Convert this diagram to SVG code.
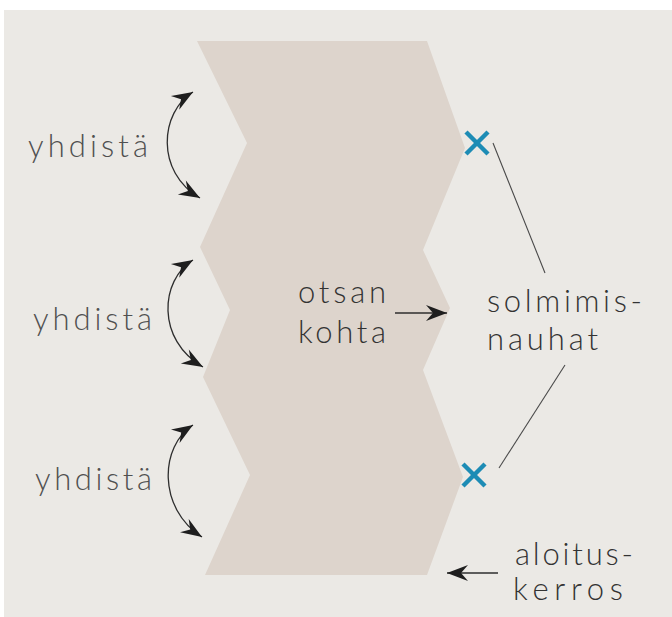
<svg xmlns="http://www.w3.org/2000/svg" width="672" height="617" viewBox="0 0 672 617">
  <style>
    .lbl { font-family: Lato, "Open Sans", "Liberation Sans", sans-serif; font-size: 31px; font-weight: 300; fill: #333333; }
    .lbl.soft { fill: #505050; }
    .conn { fill: none; stroke: #2e2e2e; stroke-width: 1.3; }
    .lead { fill: none; stroke: #4a4a4a; stroke-width: 1.1; }
    .xmark { stroke: #1d8cb5; stroke-width: 4.5; stroke-linecap: butt; }
  </style>
  <defs>
    <marker id="ah" viewBox="-22 -11 24 22" refX="0" refY="0" markerWidth="24" markerHeight="22" markerUnits="userSpaceOnUse" orient="auto-start-reverse">
      <path d="M0,0 L-21,-8 L-14,0 L-21,8 Z" fill="#1e1e1e"/>
    </marker>
  </defs>

  <rect x="0" y="0" width="672" height="617" fill="#ffffff"/>
  <rect x="4" y="10" width="668" height="607" fill="#ebe9e5"/>

  <g id="shape">
    <polygon points="197,41 427,41 465,148 423,250 450,308 423,370 463,477 427,575 205,575 250,475 203,377 230,310 200,247 247,143" fill="#ddd4cc"/>
  </g>

  <g id="connectors">
    <path class="conn" d="M193,92 C160,112 155,172 200,198" marker-start="url(#ah)" marker-end="url(#ah)"/>
    <path class="conn" d="M193,260 C160,280 156,340 203,367" marker-start="url(#ah)" marker-end="url(#ah)"/>
    <path class="conn" d="M193,425 C160,446 157,508 202,537" marker-start="url(#ah)" marker-end="url(#ah)"/>
    <path class="conn" d="M395,313 L447,313" marker-end="url(#ah)"/>
    <path class="conn" d="M498,573 L447,573" marker-end="url(#ah)"/>
    <path class="lead" d="M493,143 L545,273"/>
    <path class="lead" d="M565,365 L499,468"/>
  </g>

  <g id="mark-top">
    <line class="xmark" x1="466" y1="132" x2="488" y2="154"/>
    <line class="xmark" x1="488" y1="132" x2="466" y2="154"/>
  </g>
  <g id="mark-bottom">
    <line class="xmark" x1="463" y1="464" x2="485" y2="486"/>
    <line class="xmark" x1="485" y1="464" x2="463" y2="486"/>
  </g>

  <g id="label-yhdista-1"><text class="lbl soft" x="28" y="157" textLength="120" lengthAdjust="spacing">yhdistä</text></g>
  <g id="label-yhdista-2"><text class="lbl soft" x="33" y="330" textLength="119" lengthAdjust="spacing">yhdistä</text></g>
  <g id="label-yhdista-3"><text class="lbl soft" x="35" y="490" textLength="117" lengthAdjust="spacing">yhdistä</text></g>
  <g id="label-otsan">
    <text class="lbl" x="298" y="303" textLength="88" lengthAdjust="spacing">otsan</text>
    <text class="lbl" x="298" y="343" textLength="88" lengthAdjust="spacing">kohta</text>
  </g>
  <g id="label-solmimis">
    <text class="lbl" x="487" y="312" textLength="155" lengthAdjust="spacing">solmimis-</text>
    <text class="lbl" x="487" y="350" textLength="111" lengthAdjust="spacing">nauhat</text>
  </g>
  <g id="label-aloitus">
    <text class="lbl" x="515" y="565" textLength="118" lengthAdjust="spacing">aloitus-</text>
    <text class="lbl" x="513" y="600" textLength="110" lengthAdjust="spacing">kerros</text>
  </g>
</svg>
